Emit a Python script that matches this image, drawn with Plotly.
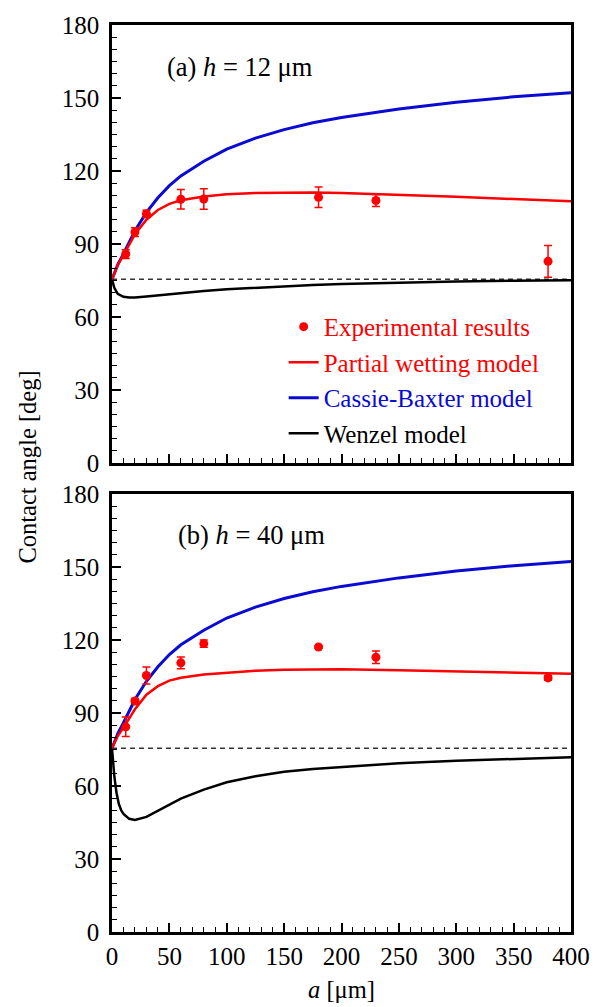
import plotly.graph_objects as go

# ---- data -------------------------------------------------------------
# Cassie-Baxter model (identical for both pillar heights)
a_cb = [0, 2, 5, 10, 15, 20, 30, 40, 50, 60, 80, 100, 125, 150, 175, 200, 250, 300, 350, 400]
cb_theta = [75.5, 78, 81.5, 86, 91, 95.5, 103, 109, 114, 118, 124, 129, 133.5, 137, 139.8, 142,
            145.5, 148.3, 150.5, 152.2]

# Partial wetting model
a_pw = [0, 2, 5, 10, 15, 20, 30, 40, 50, 60, 80, 100, 125, 150, 175, 200, 250, 300, 350, 400]
pw_theta_12 = [75.5, 78, 81.5, 85.5, 90, 94, 100, 104, 106.5, 108, 109.5, 110.5, 111, 111.2,
               111.2, 111, 110.3, 109.4, 108.5, 107.6]
pw_theta_40 = [75.5, 77.5, 80.5, 84, 88, 91.5, 97.5, 101, 103.3, 104.5, 105.8, 106.6, 107.3,
               107.8, 108, 108, 107.6, 107, 106.5, 106.1]

# Wenzel model
a_wz_12 = [0, 2, 5, 10, 15, 20, 30, 40, 50, 60, 80, 100, 125, 150, 175, 200, 250, 300, 350, 400]
wz_theta_12 = [75.5, 72, 69.5, 68.3, 68, 68, 68.4, 68.9, 69.4, 69.9, 70.7, 71.4, 72.1, 72.7,
               73.2, 73.6, 74.2, 74.6, 74.9, 75.1]
a_wz_40 = [0, 1, 2, 4, 6, 8, 10, 15, 20, 30, 40, 50, 60, 80, 100, 125, 150, 175, 200, 250,
           300, 350, 400]
wz_theta_40 = [75.5, 70, 64, 57, 52.5, 50, 48.5, 46.5, 46, 47.3, 49.8, 52.5, 54.8, 58.5, 61.5,
               64, 65.8, 67, 67.8, 69.3, 70.4, 71.2, 71.8]

# Flat-surface contact angle (reference line)
a_flat = [0, 400]
theta_flat = [75.5, 75.5]

# Experimental results
a_exp = [12, 20, 30, 60, 80, 180, 230, 380]
exp_theta_12 = [85.9, 94.9, 102.4, 108.4, 108.5, 109.2, 107.9, 82.9]
exp_err_12 = [1.8, 1.8, 1.5, 4.0, 4.2, 4.2, 2.5, 6.5]
exp_theta_40 = [84.3, 94.9, 105.4, 110.6, 118.5, 117.1, 112.9, 104.4]
exp_err_40 = [4.0, 1.0, 3.5, 2.4, 1.5, 0.5, 2.6, 1.0]

x_ticks = [0, 50, 100, 150, 200, 250, 300, 350, 400]
y_ticks = [0, 30, 60, 90, 120, 150, 180]

RED = "#ff0000"
BLUE = "#0a0ad2"
BLACK = "#000000"
FONT = "Liberation Serif"

fig = go.Figure()

panels = [
    ("x", "y", pw_theta_12, a_wz_12, wz_theta_12, exp_theta_12, exp_err_12, True),
    ("x2", "y2", pw_theta_40, a_wz_40, wz_theta_40, exp_theta_40, exp_err_40, False),
]

for xa, ya, pw, a_wz, wz, ex, er, legend in panels:
    fig.add_trace(go.Scatter(x=a_flat, y=theta_flat, mode="lines", xaxis=xa, yaxis=ya,
                             line=dict(color="#333333", width=1.5, dash="5px,4px"),
                             showlegend=False, hoverinfo="skip"))
    fig.add_trace(go.Scatter(x=a_wz, y=wz, mode="lines", xaxis=xa, yaxis=ya,
                             line=dict(color=BLACK, width=2.5),
                             name="<span style='color:#000000'>Wenzel model</span>",
                             legendrank=4, showlegend=legend))
    fig.add_trace(go.Scatter(x=a_cb, y=cb_theta, mode="lines", xaxis=xa, yaxis=ya,
                             line=dict(color=BLUE, width=3),
                             name="<span style='color:#0a0ad2'>Cassie-Baxter model</span>",
                             legendrank=3, showlegend=legend))
    fig.add_trace(go.Scatter(x=a_pw, y=pw, mode="lines", xaxis=xa, yaxis=ya,
                             line=dict(color=RED, width=2.5),
                             name="<span style='color:#ff0000'>Partial wetting model</span>",
                             legendrank=2, showlegend=legend))
    fig.add_trace(go.Scatter(x=a_exp, y=ex, mode="markers", xaxis=xa, yaxis=ya,
                             marker=dict(color=RED, size=9),
                             error_y=dict(type="data", array=er, visible=True, color=RED,
                                          thickness=1.5, width=4),
                             name="<span style='color:#ff0000'>Experimental results</span>",
                             legendrank=1, showlegend=legend))

axis_common = dict(
    showline=True, linewidth=2.5, linecolor="black", mirror=True,
    showgrid=False, zeroline=False,
    ticks="inside", tickcolor="black", tickwidth=1.5,
    tickfont=dict(family=FONT, size=25, color="black"),
)

xcommon = dict(axis_common, range=[0, 400], tickvals=x_ticks, ticklen=9,
               minor=dict(dtick=10, ticks="inside", ticklen=5, tickwidth=1.2, tickcolor="black"))
ycommon = dict(axis_common, range=[0, 180], tickvals=y_ticks, ticklen=9, ticklabelstandoff=5,
               minor=dict(dtick=5, ticks="inside", ticklen=5, tickwidth=1.2, tickcolor="black"))

fig.update_layout(
    width=602, height=1007,
    margin=dict(l=112, r=30, t=21, b=75),
    paper_bgcolor="white", plot_bgcolor="white",
    font=dict(family=FONT, color="black"),
    xaxis=dict(xcommon, domain=[0, 1], anchor="y", showticklabels=False),
    yaxis=dict(ycommon, domain=[0.517, 1], anchor="x"),
    xaxis2=dict(xcommon, domain=[0, 1], anchor="y2", ticklabelstandoff=0),
    yaxis2=dict(ycommon, domain=[0, 0.483], anchor="x2"),
    legend=dict(x=0.374, y=0.6925, xanchor="left", yanchor="top",
                font=dict(family=FONT, size=25), bgcolor="rgba(0,0,0,0)",
                tracegroupgap=0, itemwidth=30),
    showlegend=True,
    annotations=[
        dict(text="(a) <i>h</i> = 12 μm", x=46, y=162.8, xref="x", yref="y",
             xanchor="left", yanchor="middle", showarrow=False,
             font=dict(family=FONT, size=26.5)),
        dict(text="(b) <i>h</i> = 40 μm", x=56, y=163.2, xref="x2", yref="y2",
             xanchor="left", yanchor="middle", showarrow=False,
             font=dict(family=FONT, size=26.5)),
        dict(text="Contact angle [deg]", x=-0.184, y=0.5126, xref="paper", yref="paper",
             xanchor="center", yanchor="middle", textangle=-90, showarrow=False,
             font=dict(family=FONT, size=24.5)),
        dict(text="<i>a</i> [μm]", x=0.5, y=-0.0637, xref="paper", yref="paper",
             xanchor="center", yanchor="middle", showarrow=False,
             font=dict(family=FONT, size=24.5)),
    ],
)

fig.write_html("out.html")
